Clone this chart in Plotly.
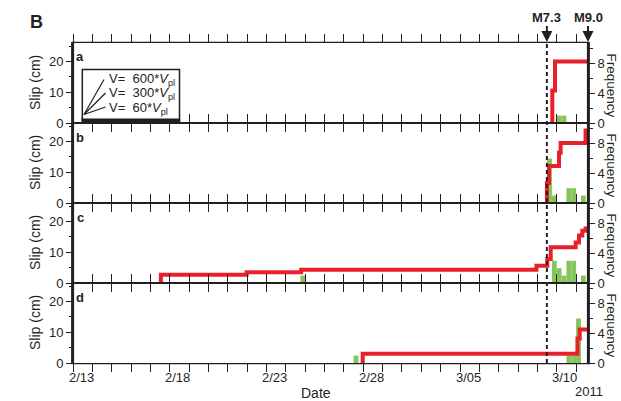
import plotly.graph_objects as go
import pandas as pd

# ---------------- data ----------------
START = "2011-02-13 00:00"
END = "2011-03-11 14:46"          # M9.0 main shock
M73_TIME = "2011-03-09 11:45"     # M7.3 foreshock
M90_TIME = "2011-03-11 14:46"

panel_letters = ["a", "b", "c", "d"]

# cumulative slip (cm), step functions
slip_times_a = ["2011-03-09 18:30", "2011-03-09 18:30", "2011-03-09 21:50", "2011-03-11 14:46"]
slip_vals_a = [0, 10.6, 20.0, 20.0]

slip_times_b = ["2011-03-09 11:50", "2011-03-09 11:50", "2011-03-09 14:25", "2011-03-10 02:50",
                "2011-03-10 04:50", "2011-03-11 11:45", "2011-03-11 14:46"]
slip_vals_b = [0, 6.5, 12.0, 16.3, 19.5, 23.6, 23.6]

slip_times_c = ["2011-02-17 13:00", "2011-02-17 13:00", "2011-02-21 23:20", "2011-02-24 19:00",
                "2011-03-08 22:50", "2011-03-09 12:15", "2011-03-09 16:30", "2011-03-10 23:30",
                "2011-03-11 03:35", "2011-03-11 07:40", "2011-03-11 11:45", "2011-03-11 14:46"]
slip_vals_c = [0, 2.7, 3.5, 4.3, 5.6, 7.8, 11.6, 13.2, 15.4, 17.0, 17.7, 17.7]

slip_times_d = ["2011-02-27 23:20", "2011-02-27 23:20", "2011-03-11 01:40", "2011-03-11 04:30",
                "2011-03-11 14:46"]
slip_vals_d = [0, 3.0, 8.0, 10.9, 10.9]

# frequency histograms (6-hour bins, bin start times)
freq_bins_a = ["2011-03-10 00:00", "2011-03-10 06:00"]
freq_counts_a = [1, 1]
freq_bins_b = ["2011-03-09 12:00", "2011-03-09 18:00", "2011-03-10 12:00", "2011-03-10 18:00",
               "2011-03-11 06:00"]
freq_counts_b = [6, 1, 2, 2, 1]
freq_bins_c = ["2011-02-24 18:00", "2011-03-09 18:00", "2011-03-10 00:00", "2011-03-10 06:00",
               "2011-03-10 12:00", "2011-03-10 18:00", "2011-03-11 06:00"]
freq_counts_c = [1, 3, 2, 1, 3, 3, 1]
freq_bins_d = ["2011-02-27 12:00", "2011-03-10 12:00", "2011-03-10 18:00", "2011-03-11 00:00"]
freq_counts_d = [1, 1, 1, 6]

tick_label_dates = ["2011-02-13", "2011-02-18", "2011-02-23", "2011-02-28", "2011-03-05", "2011-03-10"]
tick_label_text = ["2/13", "2/18", "2/23", "2/28", "3/05", "3/10"]

legend_texts = ["V=\u00a0 600*<i>V</i><sub>pl</sub>",
                "V=\u00a0 300*<i>V</i><sub>pl</sub>",
                "V=\u00a0 60*<i>V</i><sub>pl</sub>"]

slip_times = [slip_times_a, slip_times_b, slip_times_c, slip_times_d]
slip_vals = [slip_vals_a, slip_vals_b, slip_vals_c, slip_vals_d]
freq_bins = [freq_bins_a, freq_bins_b, freq_bins_c, freq_bins_d]
freq_counts = [freq_counts_a, freq_counts_b, freq_counts_c, freq_counts_d]

# ---------------- style ----------------
FONT = "Liberation Sans, Arial, Helvetica, sans-serif"
INK = "#231f20"
RED = "#e8202a"
GREEN = "#84c65c"
W, H = 621, 401
ML, MR, MT, MB = 73, 33, 43, 38
PW, PH = W - ML - MR, H - MT - MB
DAY = 86400000
BIN_W = DAY / 4


def px(x):
    return (x - ML) / PW


def py(y):
    return (H - MB - y) / PH


def nm(k):
    return "" if k == 1 else str(k)


domains = [[0.75, 1.0], [0.5, 0.75], [0.25, 0.5], [0.0, 0.25]]

fig = go.Figure()
layout = dict(
    width=W, height=H,
    margin=dict(l=ML, r=MR, t=MT, b=MB),
    paper_bgcolor="white", plot_bgcolor="white",
    showlegend=False,
    font=dict(family=FONT, size=13, color=INK),
)

for i in range(4):
    k = i + 1
    kf = k          # frequency axis (base, right)
    ks = k + 4      # slip axis (overlay, left)
    layout["xaxis" + nm(k)] = dict(
        type="date", range=[START, END], domain=[0, 1], anchor="y" + nm(kf),
        showline=True, linewidth=1.35, linecolor=INK, mirror="allticks",
        ticks="outside", ticklen=8, tickwidth=1.2, tickcolor=INK,
        tickmode="linear", tick0=START, dtick=10 * DAY,
        showticklabels=False, showgrid=False, zeroline=False,
        minor=dict(ticks="outside", ticklen=4.5, tickwidth=1.2, tickcolor=INK,
                   dtick=DAY, tick0=START, showgrid=False),
    )
    layout["yaxis" + nm(kf)] = dict(
        domain=domains[i], anchor="x" + nm(k), side="right", range=[0, 10.8],
        showline=False,
        ticks="outside", ticklen=6, tickwidth=1.3, tickcolor=INK,
        tickmode="linear", tick0=0, dtick=4,
        minor=dict(ticks="outside", ticklen=3.5, tickwidth=1.3, tickcolor=INK,
                   dtick=2, tick0=0, showgrid=False),
        showgrid=False, zeroline=False, tickfont=dict(size=13, color=INK),
    )
    layout["yaxis" + nm(ks)] = dict(
        overlaying="y" + nm(kf), anchor="x" + nm(k), side="left", range=[0, 26],
        showline=False,
        ticks="outside", ticklen=6, tickwidth=1.3, tickcolor=INK,
        tickmode="linear", tick0=0, dtick=10,
        minor=dict(ticks="outside", ticklen=3.5, tickwidth=1.3, tickcolor=INK,
                   dtick=5, tick0=0, showgrid=False),
        showgrid=False, zeroline=False, tickfont=dict(size=13, color=INK),
    )

    fig.add_trace(go.Bar(
        x=freq_bins[i], y=freq_counts[i], width=[BIN_W] * len(freq_bins[i]), offset=0,
        marker=dict(color=GREEN, line=dict(width=0)),
        xaxis="x" + nm(k), yaxis="y" + nm(kf), hoverinfo="skip",
    ))
    fig.add_trace(go.Scatter(
        x=slip_times[i], y=slip_vals[i], mode="lines",
        line=dict(color=RED, width=4, shape="hv"),
        xaxis="x" + nm(k), yaxis="y" + nm(ks), hoverinfo="skip",
    ))

fig.update_layout(**layout)

shapes = []
annotations = []

# left and right frame lines (thick vertical axes)
for xe in [px(72.6), px(588.4)]:
    shapes.append(dict(type="line", xref="paper", yref="paper", x0=xe, x1=xe, y0=py(364), y1=py(42.2),
                       line=dict(color=INK, width=3), layer="above"))
# slightly heavier outer top / bottom edges
for ye in [py(42.3), py(363.7)]:
    shapes.append(dict(type="line", xref="paper", yref="paper", x0=px(71.5), x1=px(589.5), y0=ye, y1=ye,
                       line=dict(color=INK, width=1.2), layer="above"))

# dashed line at M7.3
shapes.append(dict(type="line", xref="x", yref="paper", x0=M73_TIME, x1=M73_TIME, y0=0, y1=1,
                   line=dict(color=INK, width=2, dash="4px,3px"), layer="above"))

# legend box in panel a
shapes.append(dict(type="rect", xref="paper", yref="paper",
                   x0=px(82.3), x1=px(179.5), y0=py(120.5), y1=py(69.5),
                   fillcolor="white", line=dict(color=INK, width=1.5), layer="above"))
shapes.append(dict(type="rect", xref="paper", yref="paper",
                   x0=px(81.5), x1=px(180.2), y0=py(122.0), y1=py(118.5),
                   fillcolor=INK, line=dict(width=0), layer="above"))
for (ex, ey) in [(104, 79.5), (105.5, 93), (105.5, 107)]:
    shapes.append(dict(type="line", xref="paper", yref="paper",
                       x0=px(84), y0=py(114.5), x1=px(ex), y1=py(ey),
                       line=dict(color=INK, width=1.2), layer="above"))

for t, yy in zip(legend_texts, [79.5, 93.8, 108.3]):
    annotations.append(dict(text=t, xref="paper", yref="paper", x=px(106.5), y=py(yy),
                            xanchor="left", yanchor="middle", showarrow=False,
                            font=dict(size=13, color=INK, family=FONT)))

# "B"
annotations.append(dict(text="<b>B</b>", xref="paper", yref="paper", x=px(36), y=py(22),
                        xanchor="center", yanchor="middle", showarrow=False,
                        font=dict(size=18, color=INK, family=FONT)))

# earthquake markers
for label, t in [("<b>M7.3</b>", M73_TIME), ("<b>M9.0</b>", M90_TIME)]:
    annotations.append(dict(text=label, xref="x", yref="paper", x=t, y=1,
                            showarrow=True, arrowhead=2, arrowsize=1.1, arrowwidth=2,
                            arrowcolor=INK, ax=0, ay=-26, standoff=1,
                            font=dict(size=13, color=INK, family=FONT)))

panel_tops = [43, 123, 203, 283]
for i in range(4):
    top = panel_tops[i]
    annotations.append(dict(text="<b>%s</b>" % panel_letters[i], xref="paper", yref="paper",
                            x=px(80), y=py(top + 14), xanchor="center", yanchor="middle",
                            showarrow=False, font=dict(size=13, color=INK, family=FONT)))
    annotations.append(dict(text="Slip (cm)", xref="paper", yref="paper",
                            x=px(35), y=py(top + 40), textangle=-90,
                            xanchor="center", yanchor="middle", showarrow=False,
                            font=dict(size=14, color=INK, family=FONT)))
    annotations.append(dict(text="Frequency", xref="paper", yref="paper",
                            x=px(611.5), y=py(top + 42), textangle=90,
                            xanchor="center", yanchor="middle", showarrow=False,
                            font=dict(size=13.5, color=INK, family=FONT)))

# bottom date labels
label_pos = pd.to_datetime(tick_label_dates) + pd.Timedelta(hours=10)
for d, t in zip(label_pos, tick_label_text):
    annotations.append(dict(text=t, xref="x4", yref="paper", x=d.strftime("%Y-%m-%d %H:%M"),
                            y=py(377.5), xanchor="center", yanchor="middle", showarrow=False,
                            font=dict(size=13, color=INK, family=FONT)))

annotations.append(dict(text="Date", xref="paper", yref="paper", x=px(316), y=py(393),
                        xanchor="center", yanchor="middle", showarrow=False,
                        font=dict(size=14, color=INK, family=FONT)))
annotations.append(dict(text="2011", xref="paper", yref="paper", x=px(589), y=py(391),
                        xanchor="center", yanchor="middle", showarrow=False,
                        font=dict(size=13, color=INK, family=FONT)))

fig.update_layout(shapes=shapes, annotations=annotations)
fig.write_html("out.html")
